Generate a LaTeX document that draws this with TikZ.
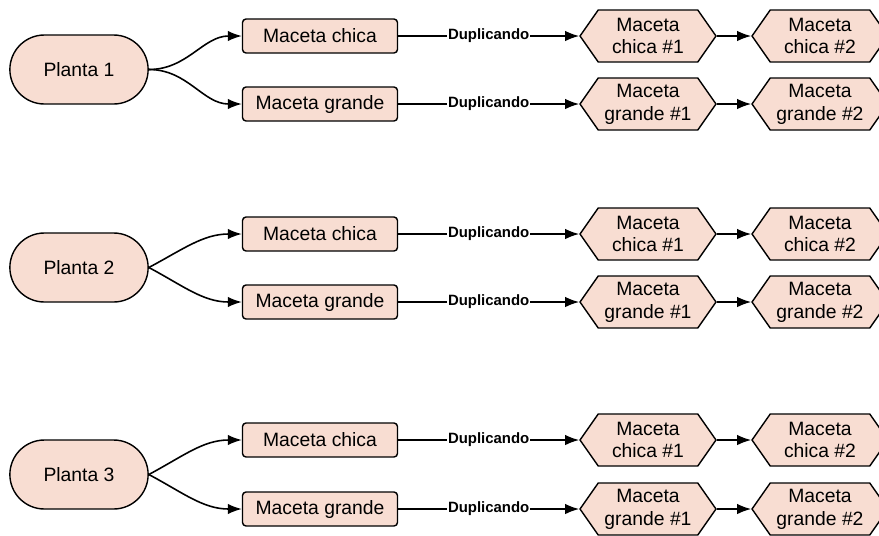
\documentclass[tikz,border=0pt]{standalone}
\usepackage{fontspec}
\setmainfont{Liberation Sans}
\usepackage{tikz}
\usetikzlibrary{arrows.meta,shapes.misc,shapes.symbols}

\definecolor{salmon}{HTML}{F8DDD2}
\tikzset{
  planta/.style={rounded rectangle, draw, fill=salmon, line width=0.8pt,
    minimum width=3.0cm, minimum height=1.38cm, font=\fontsize{11}{13}\selectfont},
  maceta/.style={rectangle, rounded corners=2pt, draw, fill=salmon, line width=0.8pt,
    minimum width=3.1cm, minimum height=0.68cm, font=\fontsize{11}{13}\selectfont},
  copia/.style={signal, signal to=east and west, signal pointer angle=110, draw,
    fill=salmon, line width=0.8pt, inner sep=0pt, minimum width=2.72cm,
    minimum height=1.04cm, align=center, font=\fontsize{11}{13}\selectfont},
  flecha/.style={-{Latex[length=8pt,width=6pt]}, line width=0.9pt},
  dup/.style={fill=white, inner sep=0.5pt, font=\fontsize{8.5}{10}\bfseries}
}

\begin{document}
\begin{tikzpicture}[x=0.02cm,y=-0.02cm]
      \useasboundingbox (0,0) rectangle (879,535);
      \foreach \n/\yp/\yc/\yg/\o in {1/69.5/36/104/0, 2/267.5/234/302/28, 3/474.5/440/509/28} {
        \node[planta] (p\n) at (79,\yp) {Planta \n};
        \node[maceta] (mc\n) at (320,\yc) {Maceta chica};
        \node[maceta] (mg\n) at (320,\yg) {Maceta grande};
        \node[copia] (hc\n a) at (648,\yc) {Maceta\\chica \#1};
        \node[copia] (hc\n b) at (820,\yc) {Maceta\\chica \#2};
        \node[copia] (hg\n a) at (648,\yg) {Maceta\\grande \#1};
        \node[copia] (hg\n b) at (820,\yg) {Maceta\\grande \#2};
        \draw[flecha] (p\n.east) to[out=\o,in=180] (mc\n.west);
        \draw[flecha] (p\n.east) to[out=-\o,in=180] (mg\n.west);
        \draw[flecha] (mc\n.east) -- node[dup] {Duplicando} (hc\n a.west);
        \draw[flecha] (mg\n.east) -- node[dup] {Duplicando} (hg\n a.west);
        \draw[flecha] (hc\n a.east) -- (hc\n b.west);
        \draw[flecha] (hg\n a.east) -- (hg\n b.west);
      }
    \end{tikzpicture}
\end{document}
